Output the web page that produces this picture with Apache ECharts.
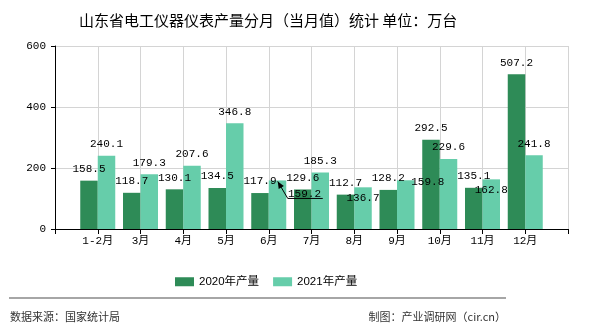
<!DOCTYPE html>
<html><head><meta charset="utf-8">
<script src="https://cdn.jsdelivr.net/npm/echarts@6/dist/echarts.min.js"></script>
<style>html,body{margin:0;padding:0;background:#fff}#c{width:590px;height:330px}</style>
</head><body><div id="c"></div>
<script>
const categories = ['1-2月','3月','4月','5月','6月','7月','8月','9月','10月','11月','12月'];
const values2020 = [158.5,118.7,130.1,134.5,117.9,129.6,112.7,128.2,292.5,135.1,507.2];
const values2021 = [240.1,179.3,207.6,346.8,159.2,185.3,136.7,159.8,229.6,162.8,241.8];
const seriesNames = ['2020年产量','2021年产量'];
const yTicks = [0,200,400,600];

// label displacement (px) of a few crowded labels, as in the reference
const moved2021 = {4:[27,25],6:[0,22],7:[22,13],9:[0,22]};
const leaderIndex = 4; // label with a leader line

const axisCats = [''].concat(categories).concat(['']);
const pad = v => [null].concat(v).concat([null]);
const mono = "'Liberation Mono','Noto Sans CJK SC',monospace";

const chart = echarts.init(document.getElementById('c'));
chart.setOption({
  animation:false,
  title:{text:'山东省电工仪器仪表产量分月（当月值）统计 单位：万台',left:74,top:8,
    textStyle:{fontSize:15,fontWeight:'normal',color:'#000',fontFamily:"'Noto Sans CJK SC'"}},
  legend:{left:170,top:271,itemWidth:19,itemHeight:9,itemGap:14,icon:'rect',
    textStyle:{fontSize:11.5,color:'#000',fontFamily:"'Liberation Sans','Noto Sans CJK SC'"}},
  grid:{left:55,right:22,top:46,bottom:101,containLabel:false},
  xAxis:{type:'category',data:axisCats,boundaryGap:false,
    axisLine:{lineStyle:{color:'#000'}},
    axisTick:{show:true,length:5,lineStyle:{color:'#000'},interval:0},
    axisLabel:{interval:0,margin:7,fontSize:11,color:'#000',fontFamily:mono},
    splitLine:{show:true,interval:0,lineStyle:{color:'#d4d4d4'}}},
  yAxis:{type:'value',min:yTicks[0],max:yTicks[yTicks.length-1],interval:200,
    axisLine:{show:true,lineStyle:{color:'#000'}},
    axisTick:{show:true,length:4,lineStyle:{color:'#000'}},
    axisLabel:{margin:9,fontSize:11,color:'#000',fontFamily:mono},
    splitLine:{lineStyle:{color:'#d4d4d4'}}},
  series:[
    {name:seriesNames[0],type:'bar',data:pad(values2020),barWidth:17.5,barGap:'0%',
     itemStyle:{color:'#2E8B57'},
     label:{show:true,position:'top',distance:6,fontSize:11,color:'#000',fontFamily:mono}},
    {name:seriesNames[1],type:'bar',data:pad(values2021),
     barWidth:17.5,barGap:'0%',
     itemStyle:{color:'#66CDAA'},
     label:{show:true,position:'top',distance:6,fontSize:11,color:'#000',fontFamily:mono},
     labelLayout:function(p){const o=moved2021[p.dataIndex-1];return o?{dx:o[0],dy:o[1]}:{};}}
  ],
  graphic:[
    {type:'line',shape:{x1:9,y1:298,x2:506,y2:298},style:{stroke:'#888',lineWidth:1.5}},
    {type:'text',left:10,top:311,style:{text:'数据来源：国家统计局',fontSize:11,fill:'#333',fontFamily:"'Noto Sans CJK SC'"}},
    {type:'text',right:84,top:311,style:{text:'制图：产业调研网（cir.cn）',fontSize:11,fill:'#333',fontFamily:"'Noto Sans CJK SC'"}}
  ]
});

// leader line for the displaced label, positioned from the chart's own scales
const p = chart.convertToPixel({xAxisIndex:0,yAxisIndex:0},[leaderIndex+1, values2021[leaderIndex]]);
const tx = p[0]+9, ty = p[1]+1;
const ex = tx+10, ey = ty+17;
const ang = Math.atan2(ey-ty, ex-tx);
const ah = 7, aw = 3;
const bx = tx+ah*Math.cos(ang), by = ty+ah*Math.sin(ang);
chart.setOption({graphic:[
  {type:'line',shape:{x1:9,y1:298,x2:506,y2:298},style:{stroke:'#888',lineWidth:1.5}},
  {type:'text',left:10,top:311,style:{text:'数据来源：国家统计局',fontSize:11,fill:'#333',fontFamily:"'Noto Sans CJK SC'"}},
  {type:'text',right:84,top:311,style:{text:'制图：产业调研网（cir.cn）',fontSize:11,fill:'#333',fontFamily:"'Noto Sans CJK SC'"}},
  {type:'polyline',shape:{points:[[tx,ty],[ex,ey],[ex+35,ey]]},style:{stroke:'#000',lineWidth:1,fill:null},z:10},
  {type:'polygon',shape:{points:[[tx,ty],[bx-aw*Math.sin(ang),by+aw*Math.cos(ang)],[bx+aw*Math.sin(ang),by-aw*Math.cos(ang)]]},style:{fill:'#000'},z:10}
]},{replaceMerge:['graphic']});
</script></body></html>
